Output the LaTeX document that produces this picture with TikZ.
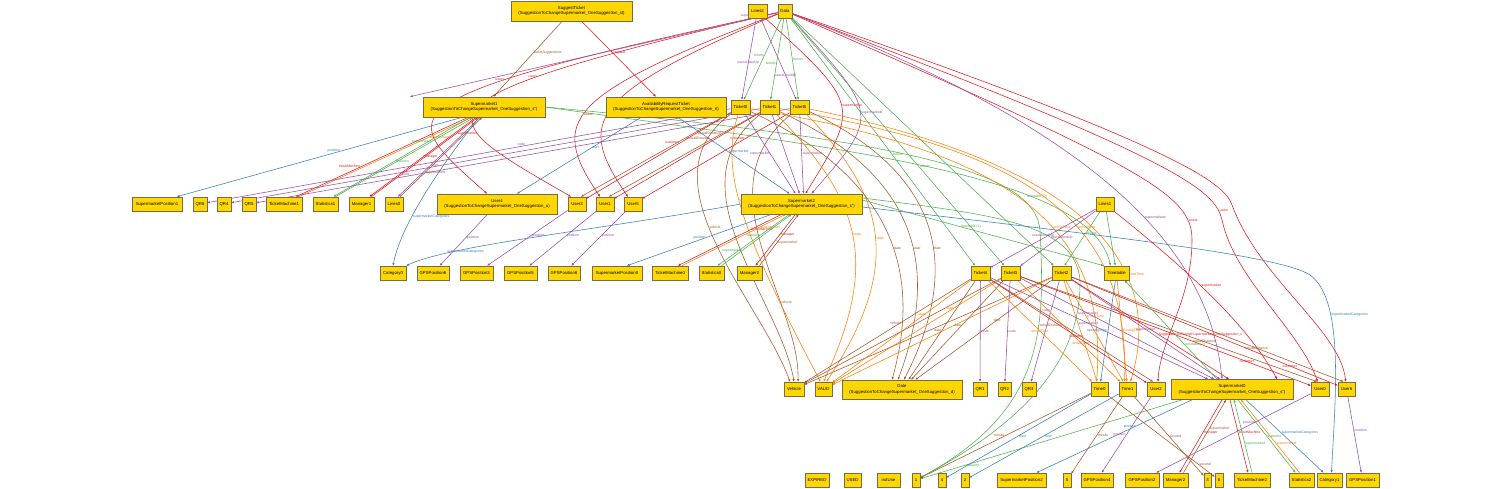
\documentclass[tikz,border=0pt]{standalone}
\usepackage{fontspec}
\setmainfont{Liberation Sans}
\usetikzlibrary{arrows.meta}
\pgfdeclarelayer{bgl}
\pgfdeclarelayer{edgel}
\pgfsetlayers{bgl,edgel,main}
\definecolor{nodefill}{RGB}{255,215,0}
\definecolor{bordc}{RGB}{120,108,75}
\definecolor{cred}{RGB}{228,26,28}
\definecolor{cpur}{RGB}{152,78,163}
\definecolor{cgrn}{RGB}{77,175,74}
\definecolor{corg}{RGB}{255,127,0}
\definecolor{cbrn}{RGB}{166,86,40}
\definecolor{cblu}{RGB}{55,126,184}
\tikzset{
  box/.style={draw=bordc, fill=nodefill, line width=0.7pt, inner sep=0pt, align=center,
    font=\fontsize{4.3}{5.6}\selectfont, minimum height=14pt},
  bw/.style={minimum width=#1},
  tall/.style={minimum height=20pt},
  ed/.style={line width=0.55pt, -{Triangle[length=2.6pt,width=2pt]}},
  er/.style={ed, draw=cred},
  ep/.style={ed, draw=cpur},
  eg/.style={ed, draw=cgrn},
  eo/.style={ed, draw=corg},
  ebr/.style={ed, draw=cbrn},
  ebl/.style={ed, draw=cblu},
  lbase/.style={font=\fontsize{3.5}{4}\selectfont, inner sep=0.6pt},
  lr/.style={lbase, text=cred},
  lp/.style={lbase, text=cpur},
  lg/.style={lbase, text=cgrn},
  lo/.style={lbase, text=corg},
  lbr/.style={lbase, text=cbrn},
  lbl/.style={lbase, text=cblu},
}
\begin{document}
\begin{tikzpicture}[x=1pt,y=-1pt]
\useasboundingbox (0,0) rectangle (1501,488);
\begin{pgfonlayer}{bgl}
\fill[white] (0,0) rectangle (1501,488);
\end{pgfonlayer}
% ---------- nodes ----------
% row 0
\node[box,bw=121pt,tall] (st) at (571.5,11) {SuggestTicket\\(SuggestionToChangeSupermarket\_OneSuggestion\_st)};
\node[box,bw=19pt] (lines2) at (757.5,11) {Lines2};
\node[box,bw=14pt] (data) at (785,11) {Data};
% row 1
\node[box,bw=122pt,tall] (s1) at (484,107) {Supermarket1\\(SuggestionToChangeSupermarket\_OneSuggestion\_s")};
\node[box,bw=120pt,tall] (art) at (666,107) {AvailabilityRequestTicket\\(SuggestionToChangeSupermarket\_OneSuggestion\_rt)};
\node[box,bw=19pt] (t0) at (740.5,107) {Ticket0};
\node[box,bw=19pt] (t1) at (769.5,107) {Ticket1};
\node[box,bw=19pt] (t5) at (799.5,107) {Ticket5};
% row 2
\node[box,bw=50pt] (sp1) at (157,204) {SupermarketPosition1};
\node[box,bw=14pt] (qr6) at (200,204) {QR6};
\node[box,bw=14pt] (qr4) at (224,204) {QR4};
\node[box,bw=14pt] (qr5) at (249,204) {QR5};
\node[box,bw=36pt] (tm1) at (284,204) {TicketMachine1};
\node[box,bw=25pt] (stat1) at (325.5,204) {Statistics1};
\node[box,bw=25pt] (man1) at (361.5,204) {Manager1};
\node[box,bw=18pt] (lines0) at (394,204) {Lines0};
\node[box,bw=120pt,tall] (u4) at (497,204) {User4\\(SuggestionToChangeSupermarket\_OneSuggestion\_u)};
\node[box,bw=18pt] (u3) at (577,204) {User3};
\node[box,bw=18pt] (u1) at (605,204) {User1};
\node[box,bw=18pt] (u5) at (633,204) {User5};
\node[box,bw=121pt,tall] (s2) at (801.5,204) {Supermarket2\\(SuggestionToChangeSupermarket\_OneSuggestion\_s")};
\node[box,bw=18pt] (lines1) at (1105,204) {Lines1};
% row 3
\node[box,bw=26pt] (cat0) at (393,273) {Category0};
\node[box,bw=32pt] (gps6) at (433,273) {GPSPosition6};
\node[box,bw=33pt] (gps3) at (476.5,273) {GPSPosition3};
\node[box,bw=33pt] (gps5) at (520.5,273) {GPSPosition5};
\node[box,bw=32pt] (gps8) at (564,273) {GPSPosition8};
\node[box,bw=50pt] (sp0) at (617,273) {SupermarketPosition0};
\node[box,bw=36pt] (tm0) at (670,273) {TicketMachine0};
\node[box,bw=25pt] (stat0) at (711.5,273) {Statistics0};
\node[box,bw=25pt] (man0) at (749.5,273) {Manager0};
\node[box,bw=19pt] (t4) at (980.5,273) {Ticket4};
\node[box,bw=19pt] (t3) at (1010.5,273) {Ticket3};
\node[box,bw=19pt] (t2) at (1061.5,273) {Ticket2};
\node[box,bw=25pt] (tt) at (1116.5,273) {Timetable};
% row 4
\node[box,bw=20pt] (veh) at (794,389) {Vehicle};
\node[box,bw=17pt] (valid) at (823.5,389) {VALID};
\node[box,bw=120pt,minimum height=19pt] (date) at (902,389.5) {Date\\(SuggestionToChangeSupermarket\_OneSuggestion\_d)};
\node[box,bw=14pt] (qr1) at (980,389) {QR1};
\node[box,bw=13pt] (qr2) at (1004.5,389) {QR2};
\node[box,bw=14pt] (qr3) at (1029,389) {QR3};
\node[box,bw=17pt] (time0) at (1099.5,389) {Time0};
\node[box,bw=17pt] (time1) at (1127.5,389) {Time1};
\node[box,bw=18pt] (u2) at (1156,389) {User2};
\node[box,bw=122pt,tall] (s0) at (1232,389.5) {Supermarket0\\(SuggestionToChangeSupermarket\_OneSuggestion\_s")};
\node[box,bw=18pt] (u0) at (1320,389) {User0};
\node[box,bw=17pt] (u6) at (1346.5,389) {User6};
% row 5
\node[box,bw=24pt] (expired) at (817,480) {EXPIRED};
\node[box,bw=17pt] (used) at (852.5,480) {USED};
\node[box,bw=23pt] (notuse) at (888.5,480) {notUse};
\node[box,bw=8pt] (n1) at (916,480) {1};
\node[box,bw=8pt] (n4) at (942,480) {4};
\node[box,bw=8pt] (n2) at (965,480) {2};
\node[box,bw=49pt] (sp2) at (1021.5,480) {SupermarketPosition2};
\node[box,bw=8pt] (n5) at (1067,480) {5};
\node[box,bw=32pt] (gps4) at (1097,480) {GPSPosition4};
\node[box,bw=34pt] (gps2) at (1142,480) {GPSPosition2};
\node[box,bw=25pt] (man2) at (1175.5,480) {Manager2};
\node[box,bw=7pt] (n3) at (1207.5,480) {3};
\node[box,bw=8pt] (n6) at (1219,480) {6};
\node[box,bw=36pt] (tm2) at (1252,480) {TicketMachine2};
\node[box,bw=25pt] (stat2) at (1301.5,480) {Statistics2};
\node[box,bw=25pt] (cat1) at (1329.5,480) {Category1};
\node[box,bw=33pt] (gps1) at (1362.5,480) {GPSPosition1};

% ---------- edges ----------
\begin{pgfonlayer}{edgel}
% SuggestTicket
\draw[ebr] (st) -- (s1) node[lbr,pos=.42,right]{ticketSuggestions};
\draw[er] (st) -- (art) node[lr,pos=.42,right]{request};
% Data: users
\draw[er] (data) .. controls (375,100) and (395,112) .. ([xshift=-10pt]u4.north) node[lr,pos=.34,above]{users};
\draw[er] (data) .. controls (395,102) and (430,115) .. ([xshift=-6pt]u3.north) node[lr,pos=.31,above]{users};
\draw[er] (data) .. controls (565,95) and (548,120) .. (u1) node[lr,pos=.55,right]{users};
\draw[er] (data) .. controls (590,95) and (575,120) .. (u5) node[lr,pos=.55,right]{users};
\draw[er] (data) .. controls (1150,170) and (1192,195) .. (1192,240) node[lr,pos=.85,right]{users} .. controls (1192,300) and (1160,340) .. ([xshift=2pt]u2.north);
\draw[er] (data) .. controls (1180,160) and (1215,190) .. (1222,220) node[lr,pos=.9,right]{users} .. controls (1235,280) and (1300,330) .. (u0);
\draw[er] (data) .. controls (1190,150) and (1225,185) .. (1232,205) .. controls (1260,280) and (1340,330) .. (u6);
% Data: supermarkets
\draw[ep] (data) -- ([xshift=-74pt]s1.north) node[lp,pos=.04,left]{supermarkets};
\draw[ep] (data) .. controls (880,115) .. ([xshift=10pt]s2.north) node[lp,pos=.5,right]{supermarkets};
\draw[ep] (data) .. controls (1120,140) and (1210,260) .. ([xshift=-10pt]s0.north) node[lp,pos=.55,right]{supermarkets};
\draw[er] (lines2) .. controls (860,105) .. ([xshift=4pt]s2.north) node[lr,pos=.5,right]{supermarket};
% Data: tickets
\draw[eg] (data) -- (t0) node[lg,pos=.45,left]{tickets};
\draw[eg] (data) -- (t1) node[lg,pos=.55,left]{tickets};
\draw[eg] (data) -- (t5) node[lg,pos=.5,right]{tickets};
\draw[eg] (data) -- (t4) node[lg,pos=.55,right]{tickets};
\draw[eg] (data) -- (t3) node[lg,pos=.6,right]{tickets};
\draw[eg] (data) -- (t2);
% Lines2
\draw[ep] (lines2) -- (t0) node[lp,pos=.55]{usersLinedUp};
\draw[ep] (lines2) -- (t5) node[lp,pos=.7]{usersLinedUp};
% Supermarket1
\draw[ebl] ([xshift=-22pt]s1.south) -- ([xshift=20pt]sp1.north) node[lbl,pos=.45,above]{position};
\draw[er] ([xshift=-16pt]s1.south) -- ([xshift=12pt]tm1.north) node[lr,pos=.62,left]{ticketMachine};
\draw[eo] ([xshift=15pt]tm1.north) -- ([xshift=-12pt]s1.south) node[lo,pos=.75,right]{supermarket};
\draw[eg] ([xshift=-14pt]s1.south) -- ([xshift=8pt]stat1.north) node[lg,pos=.55,right]{statistics};
\draw[eg] ([xshift=10pt]stat1.north) -- ([xshift=-10pt]s1.south) node[lg,pos=.7,left]{supermarket};
\draw[er] ([xshift=-8pt]s1.south) -- ([xshift=8pt]man1.north) node[lr,pos=.5,right]{manager};
\draw[er] ([xshift=10pt]man1.north) -- ([xshift=-6pt]s1.south) node[lr,pos=.8,right]{supermarket};
\draw[ep] ([xshift=-4pt]s1.south) -- ([xshift=4pt]lines0.north) node[lp,pos=.6,right]{lines};
\draw[ebr] ([xshift=6pt]lines0.north) -- ([xshift=-2pt]s1.south) node[lbr,pos=.3,right]{supermarket};
\draw[ebl] ([xshift=-5pt]s1.south) .. controls (430,180) and (400,230) .. (cat0.north) node[lbl,pos=.6,right]{supermarketCategories};
\draw[eg] (s1.east) .. controls (850,150) and (1090,175) .. ([xshift=-6pt]tt.north) node[lg,pos=.7,above]{timetable [0]};
\draw[eg] (s1.east) .. controls (900,140) and (1035,170) .. (1040,230) .. controls (1045,330) and (1045,410) .. (n1);
% AvailabilityRequestTicket
\draw[ebl] ([xshift=-25pt]art.south) -- ([xshift=20pt]u4.north) node[lbl,pos=.4,right]{user};
\draw[ebl] ([xshift=12pt]art.south) -- ([xshift=-12pt]s2.north) node[lbl,pos=.45,right]{supermarket};
% Tickets row 1
\draw[ep] (t0) -- (qr6) node[lp,pos=.4,above]{code};
\draw[ep] (t1) -- (qr4);
\draw[ep] (t5) -- (qr5) node[lp,pos=.72,above]{code};
\draw[er] (t0) -- (u3) node[lr,pos=.35,left]{customer};
\draw[er] (t1) -- (u1);
\draw[er] (t5) -- (u5) node[lr,pos=.3,left]{customer};
\draw[ebr] (t0) -- ([xshift=4pt]u3.north) node[lbr,pos=.3,right]{actualDistance};
\draw[ebr] (t1) -- ([xshift=4pt]u1.north) node[lbr,pos=.25,left]{actualDistance};
\draw[ep] (t0) -- ([xshift=-6pt]s2.north) node[lp,pos=.5,left]{supermarket};
\draw[ep] (t1) -- ([xshift=-2pt]s2.north);
\draw[ep] (t5) -- ([xshift=2pt]s2.north) node[lp,pos=.5,right]{supermarket};
\draw[ebr] (t0) .. controls (640,180) and (760,300) .. ([xshift=-4pt]veh.north) node[lbr,pos=.45,right]{vehicle};
\draw[ebr] (t1) .. controls (670,185) and (780,300) .. (veh.north);
\draw[ebr] (t5) .. controls (700,190) and (800,300) .. ([xshift=4pt]veh.north) node[lbr,pos=.7,right]{vehicle};
\draw[eo] (t0) .. controls (720,170) and (740,230) .. ([xshift=-3pt]valid.north) node[lo,pos=.45,right]{state};
\draw[eo] (t1) .. controls (860,200) and (880,260) .. (valid.north) node[lo,pos=.5,right]{state};
\draw[eo] (t5) .. controls (890,200) and (900,270) .. ([xshift=3pt]valid.north) node[lo,pos=.5,right]{state};
\draw[ebr] (t0) .. controls (900,180) and (920,280) .. ([xshift=-10pt]date.north) node[lbr,pos=.55,right]{date};
\draw[ebr] (t1) .. controls (930,180) and (935,280) .. ([xshift=-4pt]date.north) node[lbr,pos=.55,right]{date};
\draw[ebr] (t5) .. controls (955,180) and (955,280) .. ([xshift=2pt]date.north) node[lbr,pos=.55,right]{date};
\draw[eo] (t0) .. controls (1000,150) and (1110,220) .. ([xshift=-3pt]time0.north) node[lo,pos=.6,right]{arrivalTime};
\draw[eo] (t1) .. controls (1030,150) and (1130,220) .. ([xshift=-3pt]time1.north) node[lo,pos=.6,right]{arrivalTime};
\draw[eo] (t5) .. controls (1060,160) and (1170,250) .. ([xshift=3pt]time1.north) node[lo,pos=.7,right]{arrivalTime};
% Supermarket2
\draw[ebl] ([xshift=-30pt]s2.south) -- ([xshift=10pt]sp0.north) node[lbl,pos=.45,left]{position};
\draw[er] ([xshift=-20pt]s2.south) -- ([xshift=8pt]tm0.north) node[lr,pos=.3,right]{ticketMachine};
\draw[eo] ([xshift=12pt]tm0.north) -- ([xshift=-16pt]s2.south) node[lo,pos=.75,right]{supermarket};
\draw[eg] ([xshift=-12pt]s2.south) -- ([xshift=6pt]stat0.north) node[lg,pos=.4,left]{statistics};
\draw[eg] ([xshift=10pt]stat0.north) -- ([xshift=-10pt]s2.south) node[lg,pos=.3,left]{supermarket};
\draw[er] ([xshift=-6pt]s2.south) -- ([xshift=6pt]man0.north) node[lr,pos=.4,right]{manager};
\draw[ebr] ([xshift=10pt]man0.north) -- ([xshift=-3pt]s2.south) node[lbr,pos=.45,right]{supermarket};
\draw[ebl] (s2.west) .. controls (600,230) and (450,245) .. (cat0.north east) node[lbl,pos=.72,below]{supermarketCategories};
\draw[eg] ([yshift=4pt]s2.east) -- (tt.north west) node[lg,pos=.45,above]{timetable [1]};
\draw[eg] ([yshift=6pt]s2.east) .. controls (1000,215) and (1075,225) .. (1080,280) .. controls (1082,380) and (990,440) .. (n1);
\draw[ebl] ([yshift=-3pt]s2.east) .. controls (1100,235) and (1280,255) .. (1310,275) .. controls (1345,300) and (1335,400) .. ([xshift=2pt]cat1.north) node[lbl,pos=.3,right]{supermarketCategories};
% Users row 2
\draw[ep] (u4) -- (gps6) node[lp,pos=.45,right]{position};
\draw[ep] (u3) -- (gps3) node[lp,pos=.45,right]{position};
\draw[ep] (u1) -- (gps5) node[lp,pos=.45,right]{position};
\draw[ep] (u5) -- (gps8) node[lp,pos=.45,right]{position};
% Lines1
\draw[ep] (lines1) -- (t4) node[lp,pos=.5,above]{usersLinedUp};
\draw[ep] (lines1) -- (t3) node[lp,pos=.45,below]{usersLinedUp};
\draw[eg] (lines1) -- ([xshift=3pt]t2.north) node[lg,pos=.4,right]{tickets};
\draw[eg] (lines1) -- (tt);
\draw[er] (lines1) .. controls (1200,280) and (1250,330) .. ([xshift=45pt]s0.north) node[lr,pos=.4,right]{supermarket};
% Tickets row 3
\draw[ebr] (t4) -- (veh) node[lbr,pos=.45,above]{vehicle};
\draw[ebr] (t3) -- (veh);
\draw[ebr] (t2) -- (veh);
\draw[eo] (t4) -- (valid) node[lo,pos=.35,above]{state};
\draw[eo] (t3) -- (valid) node[lo,pos=.3,above]{state};
\draw[eo] (t2) -- (valid);
\draw[ebr] (t4) -- (date) node[lbr,pos=.5,left]{date};
\draw[ebr] (t3) -- (date) node[lbr,pos=.45,left]{date};
\draw[ebr] (t2) -- (date) node[lbr,pos=.4]{date};
\draw[ep] (t4) -- (qr1) node[lp,pos=.5,right]{code};
\draw[ep] (t3) -- (qr2) node[lp,pos=.5,right]{code};
\draw[ep] (t2) -- (qr3) node[lp,pos=.3,left]{code};
\draw[eo] (t4) -- (time0) node[lo,pos=.5]{arrivalTime};
\draw[eo] (t3) -- (time1) node[lo,pos=.62]{arrivalTime};
\draw[eo] (t2) -- (time0);
\draw[eo] (t2) -- (time1) node[lo,pos=.35,right]{arrivalTime};
\draw[ep] (t4) -- ([xshift=-24pt]s0.north) node[lp,pos=.45]{supermarket};
\draw[ep] (t3) -- ([xshift=-18pt]s0.north) node[lp,pos=.35]{supermarket};
\draw[ep] (t2) -- ([xshift=-12pt]s0.north) node[lp,pos=.5]{supermarket};
\draw[er] (t4) -- (u2) node[lr,pos=.55]{customer};
\draw[er] (t3) -- (u0) node[lr,pos=.78]{customer};
\draw[er] (t2) -- (u6) node[lr,pos=.82]{customer};
\draw[ebr] (t4) -- ([xshift=-3pt]u2.north) node[lbr,pos=.45,left]{actualDistance};
\draw[ebr] (t3) -- ([xshift=-3pt]u0.north) node[lbr,pos=.62]{actualDistance};
\draw[ebr] (t2) -- ([xshift=-3pt]u6.north) node[lbr,pos=.68]{actualDistance};
\draw[er] (t2) -- ([xshift=-3pt]s0.north) node[lr,pos=.55,right]{SuggestionToChangeSupermarket\_OneSuggestion\_s};
% Timetable
\draw[ebl] (tt) -- (time0) node[lbl,pos=.5,left]{openingTime};
\draw[eo] (tt) -- (time1) node[lo,pos=.5,right]{closingTime};
\draw[eg] ([xshift=-15pt]s0.north) -- ([xshift=8pt]tt.south) node[lg,pos=.35,right]{timetable [2]};
% Supermarket0
\draw[ebl] ([xshift=-40pt]s0.south) -- ([xshift=15pt]sp2.north) node[lbl,pos=.4,above]{position};
\draw[er] ([xshift=-10pt]s0.south) -- ([xshift=4pt]man2.north) node[lr,pos=.45,right]{manager};
\draw[ebr] ([xshift=8pt]man2.north) -- ([xshift=-6pt]s0.south) node[lbr,pos=.6,right]{supermarket};
\draw[er] ([xshift=-2pt]s0.south) -- ([xshift=-4pt]tm2.north) node[lr,pos=.45,right]{ticketMachine};
\draw[eg] (tm2.north) -- ([xshift=2pt]s0.south) node[lg,pos=.4,right]{supermarket};
\draw[eg] ([xshift=6pt]s0.south) -- ([xshift=-6pt]stat2.north) node[lg,pos=.5,right]{statistics};
\draw[eo] ([xshift=-2pt]stat2.north) -- ([xshift=9pt]s0.south) node[lo,pos=.4,right]{supermarket};
\draw[ebl] ([xshift=14pt]s0.south) -- ([xshift=-6pt]cat1.north) node[lbl,pos=.45,right]{supermarketCategories};
\draw[eg] ([xshift=-50pt]s0.south) -- (n1) node[lg,pos=.8,below]{capacity};
% Users row 4
\draw[ep] (u2) -- (gps4) node[lp,pos=.5,left]{position};
\draw[ep] (u0) -- (gps2) node[lp,pos=.4,above]{position};
\draw[ep] (u6) -- (gps1) node[lp,pos=.45,right]{position};
% Time
\draw[ebr] (time0) -- (n1) node[lbr,pos=.5,left]{minute};
\draw[ebl] (time0) -- (n4) node[lbl,pos=.5,right]{hour};
\draw[ebl] (time1) -- (n2) node[lbl,pos=.5,right]{hour};
\draw[ebr] (time1) -- (n5) node[lbr,pos=.5,right]{minute};
\draw[ebr] (time1) -- (n3) node[lbr,pos=.5,right]{second};
\draw[ebr] (time0) -- (n6) node[lbr,pos=.85,right]{second};
\end{pgfonlayer}
\end{tikzpicture}
\end{document}
